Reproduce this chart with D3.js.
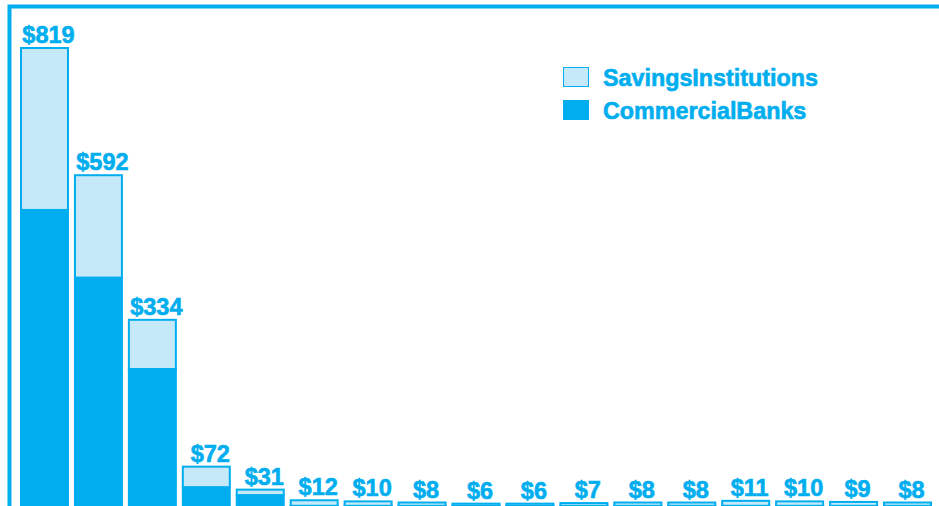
<!DOCTYPE html>
<html>
<head>
<meta charset="utf-8">
<script src="https://cdn.jsdelivr.net/npm/d3@7"></script>
<style>
  body { margin: 0; background: #fff; overflow: hidden; }
  svg { display: block; }
  text { font-family: "Liberation Sans", Arial, sans-serif; font-weight: bold; fill: #00aeef;
         stroke: #00aeef; stroke-width: 0.6px; }
</style>
</head>
<body>
<svg id="chart" width="939" height="506"></svg>
<script>
// values in $ billions
const categories = ["c1","c2","c3","c4","c5","c6","c7","c8","c9","c10","c11","c12","c13","c14","c15","c16","c17"];
const totals     = [819, 592, 334, 72, 31, 12, 10, 8, 6, 6, 7, 8, 8, 11, 10, 9, 8];
const commercial = [530, 409, 246, 35, 21, 2, 2, 2, 2, 2, 2, 2, 2, 2, 2, 2, 2];
const seriesNames = ["SavingsInstitutions", "CommercialBanks"];

const dark = "#00aeef", light = "#c6e9f9";

const svg = d3.select("#chart");

// frame
svg.append("rect")
    .attr("x", 9.5).attr("y", 6.5)
    .attr("width", 1000).attr("height", 1000)
    .attr("fill", "none")
    .attr("stroke", dark)
    .attr("stroke-width", 4);

const x = d3.scaleBand()
    .domain(categories)
    .range([21, 931])
    .paddingInner(0.129)
    .paddingOuter(0);

const y = d3.scaleLinear()
    .domain([0, 819])
    .range([507, 48]);

const data = categories.map((c, i) => ({
    cat: c,
    total: totals[i],
    commercial: commercial[i],
    savings: totals[i] - commercial[i]
}));

const bars = svg.selectAll("g.bar")
    .data(data)
    .join("g")
    .attr("class", "bar");

// savings on top
bars.append("rect")
    .attr("x", d => x(d.cat))
    .attr("y", d => y(d.total))
    .attr("width", x.bandwidth())
    .attr("height", d => y(d.commercial) - y(d.total))
    .attr("fill", light)
    .attr("stroke", dark)
    .attr("stroke-width", 2);

// commercial at the bottom
bars.append("rect")
    .attr("x", d => x(d.cat))
    .attr("y", d => y(d.commercial))
    .attr("width", x.bandwidth())
    .attr("height", d => y(0) - y(d.commercial))
    .attr("fill", dark)
    .attr("stroke", dark)
    .attr("stroke-width", 2);

bars.append("text")
    .attr("x", d => x(d.cat) + x.bandwidth() / 2 + 4)
    .attr("y", d => y(d.total) - 5)
    .attr("text-anchor", "middle")
    .style("font-size", "23.5px")
    .text(d => "$" + d.total);

// legend
const legend = svg.append("g").attr("transform", "translate(563,67)");
seriesNames.forEach((name, i) => {
    const g = legend.append("g").attr("transform", `translate(0,${i * 33})`);
    g.append("rect")
        .attr("x", 0.5).attr("y", 0.5)
        .attr("width", 25).attr("height", 19)
        .attr("fill", i === 0 ? light : dark)
        .attr("stroke", dark)
        .attr("stroke-width", 1);
    g.append("text")
        .attr("x", 40)
        .attr("y", 19)
        .style("font-size", "23.3px")
        .text(name);
});
</script>
</body>
</html>
